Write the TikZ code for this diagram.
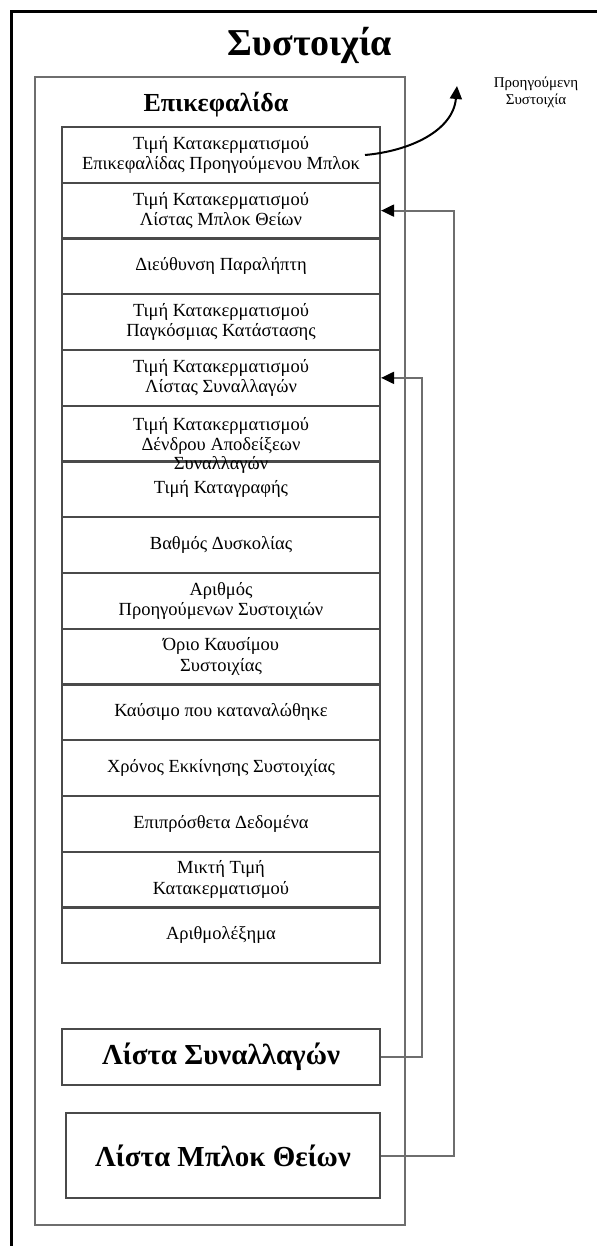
\documentclass[tikz,border=0pt]{standalone}
\usepackage{fontspec}
\setmainfont{Liberation Serif}
\usepackage{tikz}
\usetikzlibrary{arrows.meta,positioning,calc}
\definecolor{rowline}{HTML}{4A4A4A}
\definecolor{boxline}{HTML}{6E6E6E}

\begin{document}
\begin{tikzpicture}[x=1pt,y=-1pt,
  fld/.style={rectangle,draw=rowline,line width=2.2pt,inner sep=0pt,
    minimum width=318pt,minimum height=55.75pt,align=center,
    font=\fontsize{18.5}{20.5}\selectfont},
  lst/.style={rectangle,draw=rowline,line width=2.2pt,inner sep=0pt,
    font=\fontsize{29}{34}\selectfont\bfseries},
  conn/.style={draw=boxline,line width=2pt,-{Triangle[length=13pt,width=12pt,color=black]}}]
  \useasboundingbox (0,0) rectangle (597,1246);
  \draw[line width=3pt] (11,1246) -- (11,12) -- (597,12);
  \node[font=\fontsize{38}{44}\selectfont\bfseries] (title) at (310,45) {Συστοιχία};
  \node[draw=boxline,line width=2pt,minimum width=370pt,minimum height=1148pt] (blk) at (220,651) {};
  \node[font=\fontsize{26}{30}\selectfont\bfseries] (hdr) at (216,105) {Επικεφαλίδα};
  \foreach \i/\t in {1/{Τιμή Κατακερματισμού\\Επικεφαλίδας Προηγούμενου Μπλοκ},
      2/{Τιμή Κατακερματισμού\\Λίστας Μπλοκ Θείων},
      3/{Διεύθυνση Παραλήπτη},
      4/{Τιμή Κατακερματισμού\\Παγκόσμιας Κατάστασης},
      5/{Τιμή Κατακερματισμού\\Λίστας Συναλλαγών},
      6/{},
      7/{Τιμή Καταγραφής},
      8/{Βαθμός Δυσκολίας},
      9/{Αριθμός\\Προηγούμενων Συστοιχιών},
      10/{Όριο Καυσίμου\\Συστοιχίας},
      11/{Καύσιμο που καταναλώθηκε},
      12/{Χρόνος Εκκίνησης Συστοιχίας},
      13/{Επιπρόσθετα Δεδομένα},
      14/{Μικτή Τιμή\\Κατακερματισμού},
      15/{Αριθμολέξημα}}
    \node[fld] (f\i) at (221,{127+55.75*\i-27.875}) {\t};
  % this field's text runs past its lower edge
  \node[anchor=north,align=center,inner sep=0pt,font=\fontsize{18.5}{19.5}\selectfont]
    (f6t) at ($(f6.north)+(0,13)$) {Τιμή Κατακερματισμού\\Δένδρου Αποδείξεων\\Συναλλαγών};
  \node[lst,minimum width=318pt,minimum height=56pt] (ls) at (221,1057) {Λίστα Συναλλαγών};
  \node[lst,minimum width=314pt,minimum height=85pt] (lm) at (223,1155.5) {Λίστα Μπλοκ Θείων};
  \draw[conn] (ls.east) -- ++(41,0) |- (f5.east);
  \draw[conn] (lm.east) -- ++(73,0) |- (f2.east);
  \node[align=center,font=\fontsize{15}{17}\selectfont] (prev) at (536,92) {Προηγούμενη\\Συστοιχία};
  \coordinate (prevtail) at (365,155);
  \coordinate (prevtip) at (457,86);
  \draw[line width=2pt,-{Triangle[length=13pt,width=12pt]}] (prevtail) to[out=5,in=-95] (prevtip);
\end{tikzpicture}
\end{document}
